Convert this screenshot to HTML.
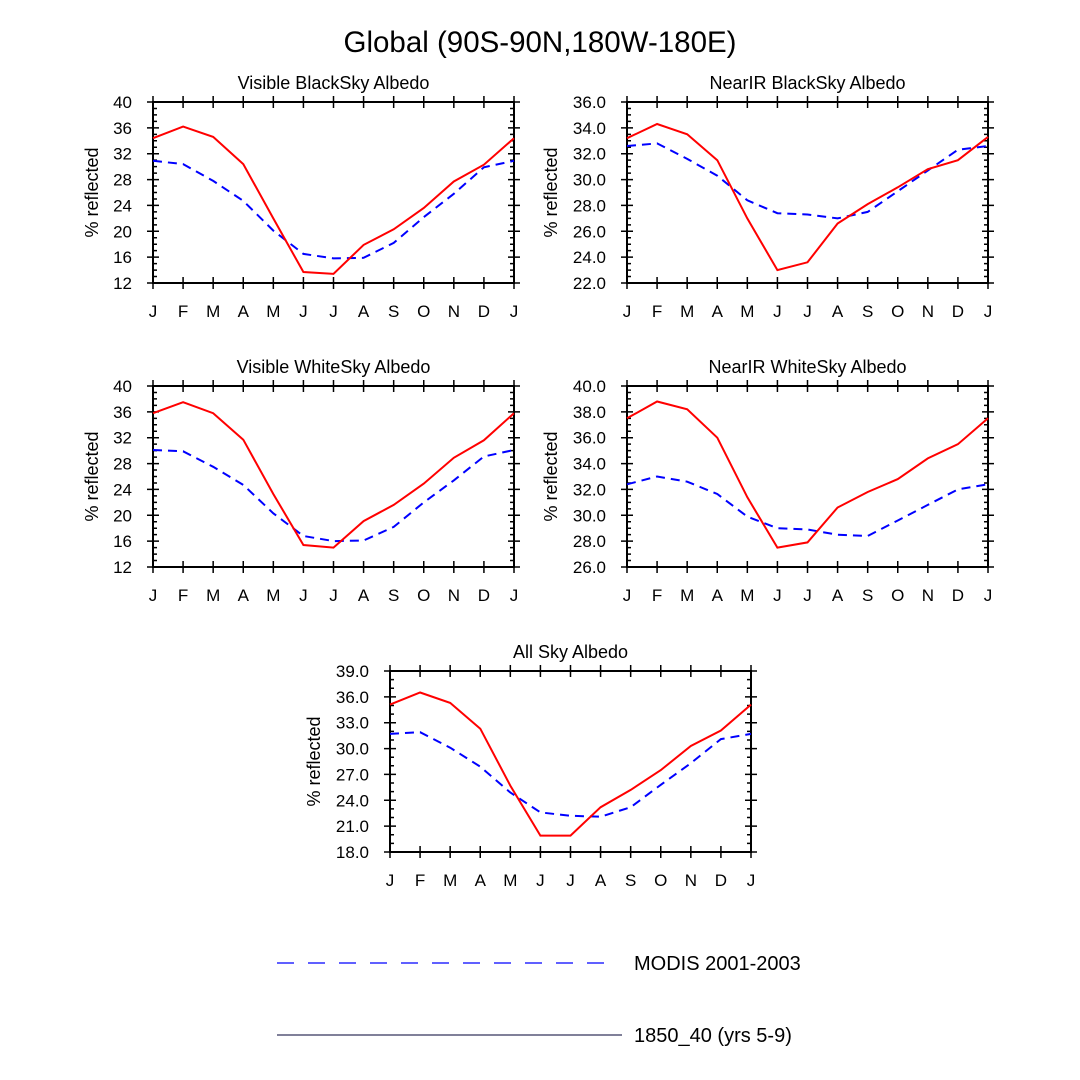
<!DOCTYPE html>
<html><head><meta charset="utf-8"><style>
html,body{margin:0;padding:0;background:#fff;}
svg{display:block;font-family:"Liberation Sans",Arial,sans-serif;}
</style></head><body>
<svg id="fig" width="1080" height="1080" viewBox="0 0 1080 1080">
<text x="540" y="52" text-anchor="middle" font-size="29.5">Global (90S-90N,180W-180E)</text>
<g>
<line x1="277" y1="963" x2="615" y2="963" stroke="#0000ff" stroke-width="1.3" stroke-dasharray="17,14"/>
<text x="634" y="970" font-size="20">MODIS 2001-2003</text>
<line x1="277" y1="1035" x2="622" y2="1035" stroke="#000033" stroke-width="1"/>
<text x="634" y="1042" font-size="20">1850_40 (yrs 5-9)</text>
</g>
</svg>
<script>
const months = ["J","F","M","A","M","J","J","A","S","O","N","D","J"];
const visBlackModel = [34.4,36.2,34.6,30.4,22.0,13.7,13.4,17.9,20.3,23.6,27.7,30.3,34.4];
const visBlackModis = [30.9,30.4,27.8,24.7,20.1,16.5,15.8,15.9,18.2,22.2,25.8,29.9,30.9];
const nirBlackModel = [33.2,34.3,33.5,31.5,27.0,23.0,23.6,26.6,28.1,29.4,30.8,31.5,33.3];
const nirBlackModis = [32.6,32.8,31.6,30.3,28.4,27.4,27.3,27.0,27.5,29.1,30.7,32.3,32.6];
const visWhiteModel = [35.8,37.5,35.8,31.7,23.3,15.4,15.0,19.1,21.6,24.9,28.9,31.6,35.8];
const visWhiteModis = [30.1,29.9,27.5,24.7,20.3,16.8,16.0,16.1,18.2,22.0,25.4,29.1,30.1];
const nirWhiteModel = [37.5,38.8,38.2,36.0,31.4,27.5,27.9,30.6,31.8,32.8,34.4,35.5,37.5];
const nirWhiteModis = [32.4,33.0,32.6,31.65,29.9,29.0,28.9,28.5,28.4,29.6,30.8,32.0,32.4];
const allSkyModel = [35.1,36.5,35.3,32.3,25.7,19.9,19.9,23.2,25.2,27.5,30.3,32.1,35.1];
const allSkyModis = [31.7,31.9,30.1,27.9,24.9,22.6,22.2,22.1,23.2,25.8,28.3,31.1,31.7];
const ticksInt40 = ["12","16","20","24","28","32","36","40"];
const ticksNirBlack = ["22.0","24.0","26.0","28.0","30.0","32.0","34.0","36.0"];
const ticksNirWhite = ["26.0","28.0","30.0","32.0","34.0","36.0","38.0","40.0"];
const ticksAllSky = ["18.0","21.0","24.0","27.0","30.0","33.0","36.0","39.0"];

const NS="http://www.w3.org/2000/svg";
const svg=document.getElementById("fig");
function mk(tag,attrs,parent){const e=document.createElementNS(NS,tag);for(const k in attrs)e.setAttribute(k,attrs[k]);(parent||svg).appendChild(e);return e;}

function panel(key,title,x0,y0,ticks,minorStep,model,modis){
  const w=361,h=181;
  const g=mk("g",{});
  
  
  const vals=ticks.map(Number);
  const ymin=vals[0],ymax=vals[vals.length-1];
  const xs=i=>x0+i*w/(months.length-1);
  const ys=v=>y0+h-(v-ymin)/(ymax-ymin)*h;
  const t=mk("text",{x:x0+w/2,y:y0-13,"text-anchor":"middle","font-size":"18"},g);t.textContent=title;
  
  
  const yoff=ticks[0].length>2?76:61;
  const yt=mk("text",{x:0,y:6,"text-anchor":"middle","font-size":"18",transform:`translate(${x0-yoff},${y0+h/2}) rotate(-90)`},g);yt.textContent="% reflected";
  
  
  let d="";
  for(let v=ymin;v<=ymax+1e-9;v+=minorStep){const y=ys(v);d+=`M${x0},${y}h4M${x0+w},${y}h-4`;}
  ticks.forEach((lab,i)=>{const y=ys(vals[i]);d+=`M${x0-6},${y}h12M${x0+w+6},${y}h-12`;
    const tl=mk("text",{x:x0-21,y:y+6,"text-anchor":"end","font-size":"17"},g);tl.textContent=lab;
    
    });
  months.forEach((m,i)=>{const x=xs(i);d+=`M${x},${y0+h+6}v-12M${x},${y0-6}v12`;
    const ml=mk("text",{x:x,y:y0+h+34,"text-anchor":"middle","font-size":"17"},g);ml.textContent=m;
    
    });
  const tk=mk("path",{d:d,stroke:"#000","stroke-width":"1.5",fill:"none"},g);
  
  
  const fr=mk("rect",{x:x0,y:y0,width:w,height:h,fill:"none",stroke:"#000","stroke-width":"2"},g);
  
  
  const pts=a=>a.map((v,i)=>xs(i).toFixed(1)+","+ys(v).toFixed(1)).join(" ");
  const l1=mk("polyline",{points:pts(modis),fill:"none",stroke:"#0000ff","stroke-width":"2","stroke-dasharray":"9,6"},g);
  
  
  const l2=mk("polyline",{points:pts(model),fill:"none",stroke:"#ff0000","stroke-width":"2"},g);
  
  
}
panel("visible-blacksky","Visible BlackSky Albedo",153,102,ticksInt40,1,visBlackModel,visBlackModis);
panel("nearir-blacksky","NearIR BlackSky Albedo",627,102,ticksNirBlack,0.5,nirBlackModel,nirBlackModis);
panel("visible-whitesky","Visible WhiteSky Albedo",153,386,ticksInt40,1,visWhiteModel,visWhiteModis);
panel("nearir-whitesky","NearIR WhiteSky Albedo",627,386,ticksNirWhite,0.5,nirWhiteModel,nirWhiteModis);
panel("all-sky","All Sky Albedo",390,671,ticksAllSky,1,allSkyModel,allSkyModis);
</script>
</body></html>
